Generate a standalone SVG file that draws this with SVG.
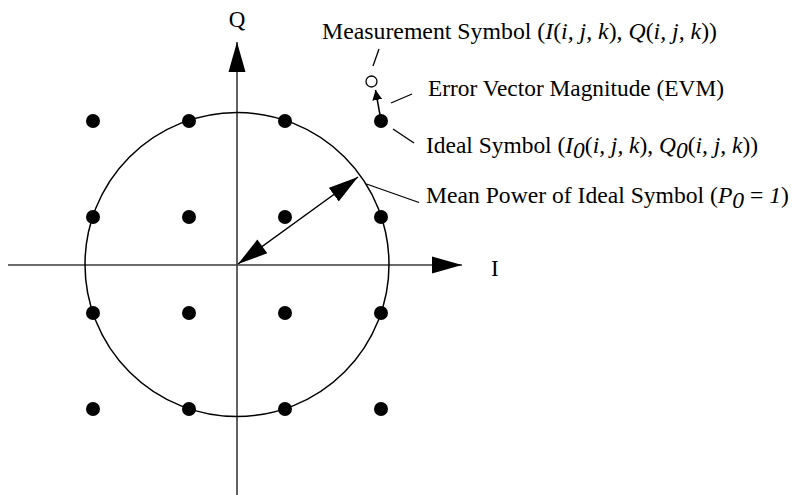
<svg xmlns="http://www.w3.org/2000/svg" width="794" height="495" viewBox="0 0 794 495">
<style>
.t{font-family:"Liberation Serif","Times New Roman",serif;font-size:22.5px;fill:#000}
.ax{font-family:"Liberation Serif","Times New Roman",serif;font-size:23px;fill:#000}
.i{font-style:italic}
.axis{stroke:#3a3a3a;stroke-width:1.6;fill:none}
.lead{stroke:#000;stroke-width:1.3;fill:none}
.dot{fill:#000}
</style>
<defs>
<marker id="big" markerUnits="userSpaceOnUse" markerWidth="32" markerHeight="20" refX="30" refY="9" orient="auto">
<path d="M0,0.5 L30,9 L0,17.5 Z" fill="#000"/>
</marker>
<marker id="big0" markerUnits="userSpaceOnUse" markerWidth="32" markerHeight="20" refX="0" refY="9" orient="auto">
<path d="M30,0.5 L0,9 L30,17.5 Z" fill="#000"/>
</marker>
<marker id="small" markerUnits="userSpaceOnUse" markerWidth="12" markerHeight="12" refX="10" refY="5" orient="auto">
<path d="M0,0 L10,5 L0,10 Z" fill="#000"/>
</marker>
</defs>
<g id="connectors">
<line id="axis-i" class="axis" x1="8" y1="265" x2="462" y2="265" marker-end="url(#big)"/>
<line id="axis-q" class="axis" x1="237" y1="495" x2="237" y2="42" marker-end="url(#big)"/>
<circle id="mean-circle" cx="237" cy="264.5" r="152" fill="none" stroke="#000" stroke-width="1.5"/>
<line id="radius" stroke="#000" stroke-width="1.5" x1="238" y1="264" x2="358" y2="177" marker-start="url(#big0)" marker-end="url(#big)"/>
<line id="evm" stroke="#000" stroke-width="1.5" x1="380" y1="115" x2="375.5" y2="90" marker-end="url(#small)"/>
<line class="lead" x1="379" y1="49" x2="373" y2="66"/>
<line class="lead" x1="391" y1="103" x2="412" y2="94"/>
<line class="lead" x1="393" y1="129" x2="414" y2="143"/>
<line class="lead" x1="366.5" y1="184" x2="419" y2="202.5"/>
</g>
<g id="points">
<circle class="dot" cx="93" cy="121" r="7"/>
<circle class="dot" cx="189" cy="121" r="7"/>
<circle class="dot" cx="285" cy="121" r="7"/>
<circle class="dot" cx="93" cy="217" r="7"/>
<circle class="dot" cx="189" cy="217" r="7"/>
<circle class="dot" cx="285" cy="217" r="7"/>
<circle class="dot" cx="381" cy="217" r="7"/>
<circle class="dot" cx="93" cy="313" r="7"/>
<circle class="dot" cx="189" cy="313" r="7"/>
<circle class="dot" cx="285" cy="313" r="7"/>
<circle class="dot" cx="381" cy="313" r="7"/>
<circle class="dot" cx="93" cy="409" r="7"/>
<circle class="dot" cx="189" cy="409" r="7"/>
<circle class="dot" cx="285" cy="409" r="7"/>
<circle class="dot" cx="381" cy="409" r="7"/>
</g>
<g id="ideal-symbol"><circle class="dot" cx="381" cy="121" r="7"/></g>
<g id="measurement-symbol"><circle cx="371.5" cy="81.5" r="5.5" fill="#fff" stroke="#000" stroke-width="1.3"/></g>
<g id="label-q"><text class="ax" x="237" y="27" text-anchor="middle">Q</text></g>
<g id="label-i"><text class="ax" x="491" y="276">I</text></g>
<g id="label-measurement"><text class="t" x="322" y="38.5" textLength="395" lengthAdjust="spacingAndGlyphs">Measurement Symbol (<tspan class="i">I</tspan>(<tspan class="i">i, j, k</tspan>), <tspan class="i">Q</tspan>(<tspan class="i">i, j, k</tspan>))</text></g>
<g id="label-evm"><text class="t" x="428" y="96" textLength="296" lengthAdjust="spacingAndGlyphs">Error Vector Magnitude (EVM)</text></g>
<g id="label-ideal"><text class="t" x="426" y="153" textLength="332" lengthAdjust="spacingAndGlyphs">Ideal Symbol (<tspan class="i">I</tspan><tspan class="i" dy="5">0</tspan><tspan dy="-5">(</tspan><tspan class="i">i, j, k</tspan>), <tspan class="i">Q</tspan><tspan class="i" dy="5">0</tspan><tspan dy="-5">(</tspan><tspan class="i">i, j, k</tspan>))</text></g>
<g id="label-mean"><text class="t" x="426" y="203" textLength="363" lengthAdjust="spacingAndGlyphs">Mean Power of Ideal Symbol (<tspan class="i">P</tspan><tspan class="i" dy="5">0</tspan><tspan dy="-5"> = </tspan><tspan class="i">1</tspan>)</text></g>
</svg>
